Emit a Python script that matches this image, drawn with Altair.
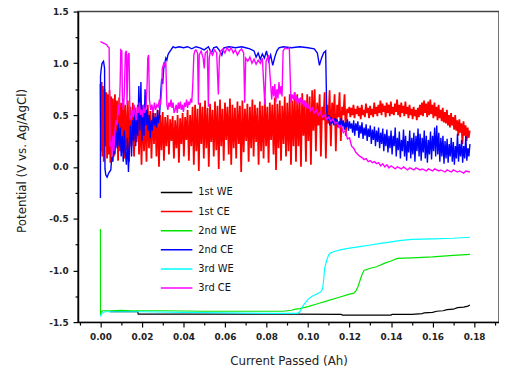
import altair as alt
import pandas as pd

# x values in mAh (converted to Ah when the table is built), y in V vs. Ag/AgCl
names = ["1st WE", "1st CE", "2nd WE", "2nd CE", "3rd WE", "3rd CE"]
colors = ["#000000", "#FF0000", "#00E600", "#0000FF", "#00FFFF", "#FF00FF"]
widths = [1.2, 1.8, 1.2, 1.4, 1.2, 1.4]

x_ticks = [-0.01, 0.00, 0.01, 0.02, 0.03, 0.04, 0.05, 0.06, 0.07, 0.08, 0.09, 0.10,
           0.11, 0.12, 0.13, 0.14, 0.15, 0.16, 0.17, 0.18, 0.19]
y_ticks = [-1.5, -1.25, -1.0, -0.75, -0.5, -0.25, 0.0, 0.25, 0.5, 0.75, 1.0, 1.25, 1.5]

we1_x = [4.6, 18.0, 18.2, 60, 93, 116, 116.5, 140, 140.5, 150, 155, 156, 160, 162, 165, 167, 170, 172, 175, 177, 178]
we1_y = [-1.400, -1.400, -1.422, -1.422, -1.422, -1.425, -1.432, -1.432, -1.425, -1.425, -1.418, -1.41, -1.405,
         -1.395, -1.39, -1.38, -1.375, -1.36, -1.355, -1.345, -1.335]

we2_x = [0.0, 0.05, 0.5, 1.0, 5, 10, 15, 30, 50, 70, 88, 90, 92, 94, 96, 100, 105, 110, 115, 120,
         122, 123, 124, 125, 126, 127, 130, 133, 137, 140, 143, 150, 160, 170, 178]
we2_y = [-0.60, -1.43, -1.40, -1.39, -1.39, -1.385, -1.39, -1.39, -1.395, -1.395, -1.395, -1.39, -1.385, -1.375,
         -1.37, -1.35, -1.32, -1.29, -1.26, -1.23, -1.22, -1.20, -1.16, -1.10, -1.04, -1.00, -0.98, -0.965,
         -0.93, -0.91, -0.885, -0.88, -0.87, -0.855, -0.845]

we3_x = [0.0, 0.5, 2, 5, 20, 40, 60, 80, 95, 96, 98, 100, 102, 104, 106, 107, 107.5, 108, 109, 110,
         111, 113, 116, 120, 125, 130, 135, 140, 145, 150, 160, 170, 178]
we3_y = [-1.445, -1.42, -1.40, -1.40, -1.40, -1.405, -1.41, -1.415, -1.415, -1.40, -1.33, -1.28, -1.25, -1.23,
         -1.21, -1.18, -1.10, -0.98, -0.90, -0.85, -0.83, -0.815, -0.80, -0.785, -0.77, -0.755, -0.74, -0.725,
         -0.71, -0.70, -0.695, -0.69, -0.68]

ce1_pts = [
    (0.0, 0.80), (0.3, 0.15), (0.6, 0.82), (0.9, 0.10), (1.2, 0.78), (1.6, 0.05), (2.0, 0.75), (2.4, 0.20),
    (2.8, 0.72), (3.2, 0.08), (3.6, 0.70), (4.0, 0.12), (4.4, 0.74), (4.8, 0.04), (5.2, 0.68), (5.6, 0.18),
    (6.0, 0.66), (6.5, 0.10), (7.0, 0.70), (7.5, 0.25), (8.0, 0.64), (8.5, 0.06), (9.0, 0.67), (9.5, 0.15),
    (10.0, 0.62), (10.5, 0.22), (11.0, 0.66), (11.5, 0.08), (12.0, 0.60), (12.6, 0.16), (13.2, 0.64),
    (13.8, 0.05), (14.4, 0.58), (15.0, 0.20), (15.6, 0.62), (16.2, 0.10), (16.8, 0.57), (17.4, 0.24),
    (18.0, 0.60), (18.6, 0.12), (19.2, 0.55), (19.8, 0.02),
    (20.4, 0.58), (21.0, 0.15), (21.6, 0.56), (22.2, 0.05), (22.8, 0.60), (23.4, 0.18), (24.0, 0.54),
    (24.6, 0.08), (25.2, 0.57), (25.8, 0.22), (26.4, 0.52), (27.0, 0.10), (27.6, 0.55), (28.2, 0.00),
    (28.8, 0.50), (29.4, 0.16), (30.0, 0.53), (30.6, 0.06), (31.2, 0.48), (31.8, 0.20), (32.4, 0.50),
    (33.0, 0.12), (33.6, 0.46), (34.2, 0.25), (34.8, 0.49), (35.4, 0.08), (36.0, 0.45), (36.6, 0.18),
    (37.2, 0.50), (37.8, 0.04), (38.4, 0.47), (39.0, 0.22), (39.6, 0.52), (40.2, 0.10), (40.8, 0.48),
    (41.4, 0.26), (42.0, 0.55), (42.6, 0.06), (43.2, 0.50), (43.8, 0.20), (44.4, 0.58),
    (45.0, 0.02), (45.6, 0.60), (46.2, 0.15), (46.8, 0.56), (47.4, -0.04), (48.0, 0.62), (48.6, 0.22),
    (49.2, 0.58), (49.8, 0.08), (50.4, 0.64), (51.0, 0.18), (51.6, 0.57), (52.2, 0.00), (52.8, 0.61),
    (53.4, 0.24), (54.0, 0.55), (54.6, 0.10), (55.2, 0.63), (55.8, 0.16), (56.4, 0.59), (57.0, -0.02),
    (57.6, 0.65), (58.2, 0.20), (58.8, 0.56), (59.4, 0.06), (60.0, 0.62), (60.6, 0.26), (61.2, 0.58),
    (61.8, 0.12), (62.4, 0.66), (63.0, 0.02), (63.6, 0.60), (64.2, 0.18), (64.8, 0.57), (65.4, 0.08),
    (66.0, 0.63), (66.6, 0.22), (67.2, 0.59), (67.8, -0.05), (68.4, 0.64), (69.0, 0.14), (69.6, 0.56),
    (70.2, 0.25), (70.8, 0.61), (71.4, 0.05), (72.0, 0.58), (72.6, 0.18), (73.2, 0.65), (73.8, 0.10),
    (74.4, 0.60), (75.0, 0.24), (75.6, 0.57), (76.2, 0.02), (76.8, 0.63), (77.4, 0.15), (78.0, 0.59),
    (78.6, 0.08), (79.2, 0.66), (79.8, 0.20), (80.4, 0.58), (81.0, 0.04), (81.6, 0.62), (82.2, 0.26),
    (82.8, 0.60), (83.4, 0.12), (84.0, 0.67), (84.6, -0.03), (85.2, 0.61), (85.8, 0.18), (86.4, 0.64),
    (87.0, 0.06), (87.6, 0.59), (88.2, 0.22), (88.8, 0.68), (89.4, 0.10), (90.0, 0.62), (90.6, 0.15),
    (91.2, 0.70), (91.8, 0.02), (92.4, 0.64), (93.0, 0.20), (93.6, 0.72), (94.2, 0.05),
    (94.8, 0.70), (95.4, 0.20), (96.0, 0.66), (96.6, 0.00), (97.2, 0.71), (97.8, 0.30), (98.4, 0.64),
    (99.0, 0.05), (99.6, 0.70), (100.2, 0.25), (100.8, 0.68), (101.4, 0.02), (102.0, 0.74), (102.6, 0.35),
    (103.2, 0.75), (103.8, 0.15), (104.4, 0.62), (105.0, 0.40), (105.6, 0.70), (106.2, 0.10), (106.8, 0.58),
    (107.4, 0.45), (108.0, 0.72), (108.6, 0.08), (109.2, 0.60), (109.8, 0.42), (110.4, 0.74), (111.0, 0.20),
    (111.6, 0.62), (112.2, 0.45), (112.8, 0.70), (113.4, 0.15), (114.0, 0.60), (114.6, 0.48), (115.2, 0.72),
    (115.8, 0.25), (116.4, 0.58), (117.0, 0.50), (117.6, 0.70), (118.2, 0.30), (118.8, 0.56),
    (119.4, 0.52), (119.9, 0.58), (120.4, 0.48), (120.9, 0.57), (121.4, 0.50), (121.9, 0.60), (122.4, 0.47),
    (122.9, 0.56), (123.4, 0.51), (123.9, 0.59), (124.4, 0.49), (124.9, 0.57), (125.4, 0.46), (125.9, 0.60),
    (126.4, 0.50), (126.9, 0.55), (127.4, 0.48), (127.9, 0.61), (128.4, 0.52), (128.9, 0.57), (129.4, 0.47),
    (129.9, 0.59), (130.4, 0.50), (130.9, 0.56), (131.4, 0.48), (131.9, 0.62), (132.4, 0.51), (132.9, 0.58),
    (133.4, 0.49), (133.9, 0.60), (134.4, 0.52), (134.9, 0.64), (135.4, 0.50), (135.9, 0.61), (136.4, 0.53),
    (136.9, 0.59), (137.4, 0.48), (137.9, 0.62), (138.4, 0.52), (138.9, 0.60), (139.4, 0.49), (139.9, 0.63),
    (140.4, 0.51), (140.9, 0.58), (141.4, 0.50), (141.9, 0.61), (142.4, 0.53), (142.9, 0.65), (143.4, 0.50),
    (143.9, 0.60), (144.4, 0.48), (144.9, 0.62), (145.4, 0.52), (145.9, 0.59), (146.4, 0.49), (146.9, 0.63),
    (147.4, 0.51), (147.9, 0.58), (148.4, 0.47), (148.9, 0.60), (149.4, 0.50), (149.9, 0.56), (150.4, 0.46),
    (150.9, 0.58), (151.4, 0.49), (151.9, 0.55), (152.4, 0.45), (152.9, 0.57), (153.4, 0.48), (153.9, 0.60),
    (154.4, 0.50), (154.9, 0.62), (155.4, 0.49), (155.9, 0.64), (156.4, 0.52), (156.9, 0.61), (157.4, 0.48),
    (157.9, 0.63), (158.4, 0.50), (158.9, 0.65), (159.4, 0.51), (159.9, 0.60), (160.4, 0.47), (160.9, 0.62),
    (161.4, 0.49), (161.9, 0.58), (162.4, 0.45), (162.9, 0.60), (163.4, 0.47), (163.9, 0.55), (164.4, 0.44),
    (164.9, 0.57), (165.4, 0.43), (165.9, 0.53), (166.4, 0.42), (166.9, 0.55), (167.4, 0.40), (167.9, 0.50),
    (168.4, 0.38), (168.9, 0.52), (169.4, 0.40), (169.9, 0.48), (170.4, 0.36), (170.9, 0.50), (171.4, 0.35),
    (171.9, 0.45), (172.4, 0.30), (172.9, 0.46), (173.4, 0.33), (173.9, 0.42), (174.4, 0.22), (174.9, 0.44),
    (175.4, 0.30), (175.9, 0.40), (176.4, 0.25), (176.9, 0.38), (177.4, 0.28), (177.9, 0.35),
]

ce2_pts = [
    (0.0, -0.30), (0.05, 0.88), (0.4, 0.95), (0.8, 1.00), (1.5, 1.02), (2.0, 0.95), (2.2, -0.02), (2.6, -0.08),
    (3.2, -0.10), (4.0, -0.06), (5.0, -0.03), (5.5, 0.10), (6.0, 0.05),
    (6.5, 0.25), (7.0, 0.12), (7.5, 0.35), (8.0, 0.18), (8.5, 0.42), (9.0, 0.20), (9.5, 0.38), (10.0, 0.10),
    (10.5, 0.30), (11.0, 0.05), (11.5, 0.35), (12.0, 0.15), (12.5, 0.02), (13.0, 0.28), (13.5, -0.05),
    (14.0, 0.22), (14.5, 0.40), (15.0, 0.10), (15.5, 0.45), (16.0, 0.25), (16.5, 0.55), (17.0, 0.20),
    (17.5, 0.50), (18.0, 0.30), (18.5, 0.78), (19.0, 0.35), (19.5, 0.82), (20.0, 0.25), (20.5, 0.60),
    (21.0, 0.30), (21.5, 0.75), (22.0, 0.40), (22.5, 0.55), (23.0, 0.35), (23.5, 0.50), (24.0, 0.28),
    (24.5, 0.45), (25.0, 0.35), (25.5, 0.52), (26.0, 0.40), (26.5, 0.48), (27.0, 0.38), (27.5, 0.55),
    (28.0, 0.42), (28.5, 0.50), (29.0, 0.70), (29.5, 0.85), (30.0, 0.80), (30.5, 0.95), (31.0, 1.00),
    (31.5, 1.05), (32.0, 1.03), (32.5, 1.08), (33.0, 1.10), (34.0, 1.13), (35.0, 1.16),
    (36.0, 1.15), (38.0, 1.16), (40.0, 1.15), (42.0, 1.16), (44.0, 1.14), (46.0, 1.16), (48.0, 1.15),
    (50.0, 1.13), (52.0, 1.16), (53.5, 1.10), (54.5, 1.15), (56.0, 1.16), (57.5, 1.12), (58.5, 1.08),
    (59.5, 1.15), (62.0, 1.16), (65.0, 1.15), (68.0, 1.16), (70.0, 1.15), (72.0, 1.14), (74.0, 1.12),
    (75.0, 1.06), (76.0, 1.10), (77.0, 1.04), (78.0, 1.09), (79.0, 1.05), (80.0, 1.12), (81.0, 1.02),
    (82.0, 1.08), (83.0, 0.98), (84.0, 1.06), (85.0, 1.12), (86.0, 1.15), (88.0, 1.16), (92.0, 1.15),
    (96.0, 1.16), (100.0, 1.15), (103.0, 1.14), (104.5, 1.10), (105.5, 0.98), (106.5, 1.05), (107.5, 1.10),
    (108.5, 1.12), (109.0, 0.55), (109.5, 0.45), (110.0, 0.50), (110.5, 0.40), (111.0, 0.48), (111.5, 0.42),
    (112.0, 0.45), (112.5, 0.40), (113.0, 0.47), (113.5, 0.41), (114.0, 0.46), (114.5, 0.38), (115.0, 0.44),
    (115.5, 0.40), (116.0, 0.47), (116.5, 0.39), (117.0, 0.45), (117.5, 0.36), (118.0, 0.43), (118.5, 0.38),
    (119.0, 0.46), (119.5, 0.35), (120.0, 0.44), (120.5, 0.37), (121.0, 0.42), (121.5, 0.33), (122.0, 0.45),
    (122.5, 0.30), (123.0, 0.42), (123.5, 0.35), (124.0, 0.44), (124.5, 0.28), (125.0, 0.40), (125.5, 0.32),
    (126.0, 0.43), (126.5, 0.27), (127.0, 0.38), (127.5, 0.30), (128.0, 0.41), (128.5, 0.25), (129.0, 0.37),
    (129.5, 0.29), (130.0, 0.40), (130.5, 0.22), (131.0, 0.36), (131.5, 0.26), (132.0, 0.39), (132.5, 0.20),
    (133.0, 0.35), (133.5, 0.24), (134.0, 0.38), (134.5, 0.18), (135.0, 0.33), (135.5, 0.22), (136.0, 0.37),
    (136.5, 0.15), (137.0, 0.32), (137.5, 0.20), (138.0, 0.36), (138.5, 0.14), (139.0, 0.30), (139.5, 0.18),
    (140.0, 0.35), (140.5, 0.12), (141.0, 0.30), (141.5, 0.20), (142.0, 0.38), (142.5, 0.10), (143.0, 0.28),
    (143.5, 0.16), (144.0, 0.34), (144.5, 0.08), (145.0, 0.26), (145.5, 0.15), (146.0, 0.36), (146.5, 0.10),
    (147.0, 0.30), (147.5, 0.06), (148.0, 0.25), (148.5, 0.14), (149.0, 0.35), (149.5, 0.08), (150.0, 0.28),
    (150.5, 0.12), (151.0, 0.33), (151.5, 0.05), (152.0, 0.30), (152.5, 0.15), (153.0, 0.37), (153.5, 0.10),
    (154.0, 0.32), (154.5, 0.06), (155.0, 0.28), (155.5, 0.14), (156.0, 0.35), (156.5, 0.08), (157.0, 0.30),
    (157.5, 0.04), (158.0, 0.26), (158.5, 0.12), (159.0, 0.34), (159.5, 0.07), (160.0, 0.30), (160.5, 0.15),
    (161.0, 0.38), (161.5, 0.10), (162.0, 0.40), (162.5, 0.12), (163.0, 0.33), (163.5, 0.05), (164.0, 0.28),
    (164.5, 0.10), (165.0, 0.30), (165.5, 0.03), (166.0, 0.25), (166.5, 0.08), (167.0, 0.27), (167.5, 0.04),
    (168.0, 0.22), (168.5, 0.10), (169.0, 0.28), (169.5, 0.05), (170.0, 0.24), (170.5, 0.02), (171.0, 0.20),
    (171.5, 0.08), (172.0, 0.32), (172.5, 0.05), (173.0, 0.22), (173.5, 0.10), (174.0, 0.26), (174.5, 0.04),
    (175.0, 0.20), (175.5, 0.08), (176.0, 0.30), (176.5, 0.06), (177.0, 0.18), (177.5, 0.10), (178.0, 0.22),
]

ce3_pts = [
    (0.0, 1.21), (1.0, 1.20), (2.0, 1.19), (3.0, 1.18), (3.6, 1.16), (4.2, 1.15), (4.6, 0.20), (5.0, 0.25),
    (5.5, 0.10), (6.0, 0.30), (6.5, 0.15), (7.0, 0.35), (7.5, 0.45), (8.0, 0.40), (8.5, 0.60), (9.0, 0.50),
    (9.5, 0.80), (9.8, 1.13), (10.3, 1.12), (10.6, 0.65), (11.0, 0.55), (11.5, 0.70), (12.0, 1.10),
    (12.5, 1.12), (12.8, 0.60), (13.3, 1.08), (13.8, 1.10), (14.2, 0.50), (14.8, 0.45), (15.3, 0.55),
    (15.8, 0.48), (16.3, 0.60), (16.8, 0.50), (17.3, 0.45), (17.8, 0.58), (18.3, 0.52), (18.8, 0.62),
    (19.3, 0.50), (19.8, 0.55), (20.3, 0.48), (20.8, 0.60), (21.3, 0.52), (22.0, 0.58), (22.5, 0.80),
    (22.8, 1.05), (23.2, 1.08), (23.6, 0.65), (24.2, 0.55), (24.8, 0.60), (25.4, 0.52), (26.0, 0.62),
    (26.6, 0.55), (27.2, 0.60), (27.8, 0.58), (28.4, 0.65), (29.0, 0.60), (29.5, 0.75), (29.8, 0.95),
    (30.5, 1.00), (31.0, 0.98), (31.5, 1.02), (32.0, 0.60), (32.5, 0.55), (33.0, 0.62), (33.5, 0.58),
    (34.0, 0.65), (34.5, 0.57), (35.0, 0.62), (35.5, 0.52), (36.0, 0.55), (36.5, 0.60), (37.0, 0.52),
    (37.5, 0.62), (38.0, 0.56), (38.5, 0.63), (39.0, 0.55), (39.5, 0.60), (40.0, 0.53), (40.5, 0.62),
    (41.0, 0.58), (41.5, 0.65), (42.0, 0.57), (42.5, 0.63), (43.0, 0.60), (43.5, 0.66), (44.0, 0.62),
    (44.5, 0.80), (45.0, 1.08), (45.5, 1.12),
    (46.0, 1.13), (46.8, 1.10), (47.2, 0.60), (47.6, 1.08), (48.5, 1.12), (49.5, 1.05), (50.0, 0.95),
    (50.5, 1.10), (51.5, 1.12), (52.0, 0.58), (52.4, 1.05), (53.0, 1.12), (54.0, 1.08), (55.0, 1.13),
    (56.0, 1.10), (56.8, 0.70), (57.3, 1.05), (58.0, 1.12), (59.0, 1.14), (60.0, 1.10), (61.0, 1.15),
    (62.0, 1.12), (63.0, 1.15), (64.0, 1.10), (65.0, 1.13), (66.0, 1.08), (67.0, 1.12), (68.0, 1.14),
    (69.0, 1.10), (69.5, 0.62), (70.0, 1.05), (71.0, 1.02), (72.0, 1.06), (73.0, 1.00), (74.0, 1.04),
    (75.0, 0.99), (76.0, 1.03), (77.0, 1.00), (78.0, 1.05), (79.2, 0.60), (79.8, 1.02), (81.0, 1.08),
    (82.0, 0.80), (82.5, 0.65), (83.0, 0.78), (83.5, 0.68), (84.0, 0.80), (84.5, 0.62), (85.0, 0.75),
    (85.5, 0.66), (86.0, 0.82), (86.5, 0.70), (87.0, 0.78), (87.5, 0.68), (88.0, 1.12), (89.0, 1.15),
    (90.0, 1.14), (91.0, 1.15), (91.8, 0.62), (92.3, 0.70), (93.0, 0.65), (93.5, 0.72), (94.0, 0.63),
    (94.5, 0.68), (95.0, 0.60), (95.5, 0.66), (96.0, 0.62), (96.5, 0.67), (97.0, 0.60), (97.5, 0.65),
    (98.0, 0.58), (98.5, 0.64), (99.0, 0.57), (99.5, 0.62), (100.0, 0.56), (100.5, 0.60),
    (101.0, 0.54), (102.0, 0.57), (103.0, 0.52), (104.0, 0.55), (105.0, 0.50), (106.0, 0.53), (107.0, 0.48),
    (108.0, 0.50), (109.0, 0.46), (110.0, 0.48), (111.0, 0.44), (112.0, 0.46), (113.0, 0.42), (114.0, 0.43),
    (115.0, 0.38), (116.0, 0.40), (117.0, 0.33), (118.0, 0.35), (119.0, 0.27), (120.0, 0.28), (121.0, 0.20),
    (122.0, 0.18), (123.0, 0.14), (124.0, 0.12), (125.0, 0.10), (126.0, 0.09), (127.0, 0.07), (128.0, 0.08),
    (129.0, 0.05), (130.0, 0.06), (131.0, 0.04), (132.0, 0.05), (133.0, 0.03), (134.0, 0.04), (135.0, 0.01),
    (136.0, 0.03), (137.0, 0.00), (138.0, 0.02), (139.0, -0.01), (140.0, 0.01), (142.0, -0.02), (143.0, 0.00),
    (145.0, -0.02), (146.0, 0.00), (148.0, -0.03), (149.0, -0.01), (151.0, -0.03), (152.0, -0.01),
    (154.0, -0.03), (155.0, -0.02), (157.0, -0.04), (158.0, -0.02), (160.0, -0.04), (161.0, -0.02),
    (163.0, -0.04), (164.0, -0.03), (166.0, -0.05), (167.0, -0.03), (169.0, -0.05), (170.0, -0.03),
    (172.0, -0.05), (173.0, -0.04), (175.0, -0.06), (176.0, -0.04), (178.0, -0.05),
]

rows = []
def add(name, xs, ys):
    for i, (xv, yv) in enumerate(zip(xs, ys)):
        rows.append({"series": name, "x": xv / 1000.0, "y": yv, "idx": i})

add("1st WE", we1_x, we1_y)
add("1st CE", [p[0] for p in ce1_pts], [p[1] for p in ce1_pts])
add("2nd WE", we2_x, we2_y)
add("2nd CE", [p[0] for p in ce2_pts], [p[1] for p in ce2_pts])
add("3rd WE", we3_x, we3_y)
add("3rd CE", [p[0] for p in ce3_pts], [p[1] for p in ce3_pts])
df = pd.DataFrame(rows)

x_enc = alt.X(
    "x:Q",
    scale=alt.Scale(domain=[-0.0108, 0.192], nice=False, zero=False),
    axis=alt.Axis(
        values=x_ticks,
        title="Current Passed (Ah)",
        labelExpr="abs(round(datum.value*100)) % 2 == 0 ? format(datum.value, '.2f') : ''",
        tickSize={"condition": {"test": "abs(round(datum.value*100)) % 2 == 0", "value": 5}, "value": 3},
        labelPadding=6,
        labelOverlap=False,
        titleY=39,
        titleBaseline="middle",
    ),
)
y_enc = alt.Y(
    "y:Q",
    scale=alt.Scale(domain=[-1.5, 1.5], nice=False, zero=False),
    axis=alt.Axis(
        values=y_ticks,
        title="Potential (V vs. Ag/AgCl)",
        labelExpr="abs(round(datum.value*4)) % 2 == 0 ? (datum.value < 0 ? '-' : '') + format(abs(datum.value), '.1f') : ''",
        tickSize={"condition": {"test": "abs(round(datum.value*4)) % 2 == 0", "value": 5}, "value": 3},
        labelPadding=5,
        labelOverlap=False,
        titleX=-57,
        titleY=151,
        titleBaseline="middle",
    ),
)
color_enc = alt.Color(
    "series:N",
    scale=alt.Scale(domain=names, range=colors),
    legend=alt.Legend(
        title=None, orient="none", legendX=83, legendY=177, symbolType="stroke", symbolSize=1024,
        symbolStrokeWidth=1.5, labelFont="DejaVu Sans", labelFontSize=10, labelColor="#111",
        clipHeight=13, rowPadding=6.4, labelOffset=5, padding=0,
    ),
)

base = alt.Chart(df).encode(x=x_enc, y=y_enc, color=color_enc, order="idx:Q")
layers = [
    base.transform_filter(alt.datum.series == n).mark_line(strokeWidth=w, clip=True)
    for n, w in zip(names, widths)
]

chart = alt.layer(*layers).properties(
    width=427, height=315,
    autosize=alt.AutoSizeParams(type="none"),
    padding={"left": 71, "top": 1, "right": 0, "bottom": 49},
).configure_view(stroke="#444", strokeWidth=1.5).configure_axis(
    grid=False, domainColor="#000", domainWidth=1.5, tickColor="#000", tickWidth=1.2,
    labelFont="DejaVu Sans", labelFontWeight="bold", labelFontSize=9, labelColor="#222",
    titleFont="DejaVu Sans", titleFontSize=12, titleFontWeight="normal", titleColor="#222",
)

chart.save("out.html", embed_options={"renderer": "svg", "actions": False})
